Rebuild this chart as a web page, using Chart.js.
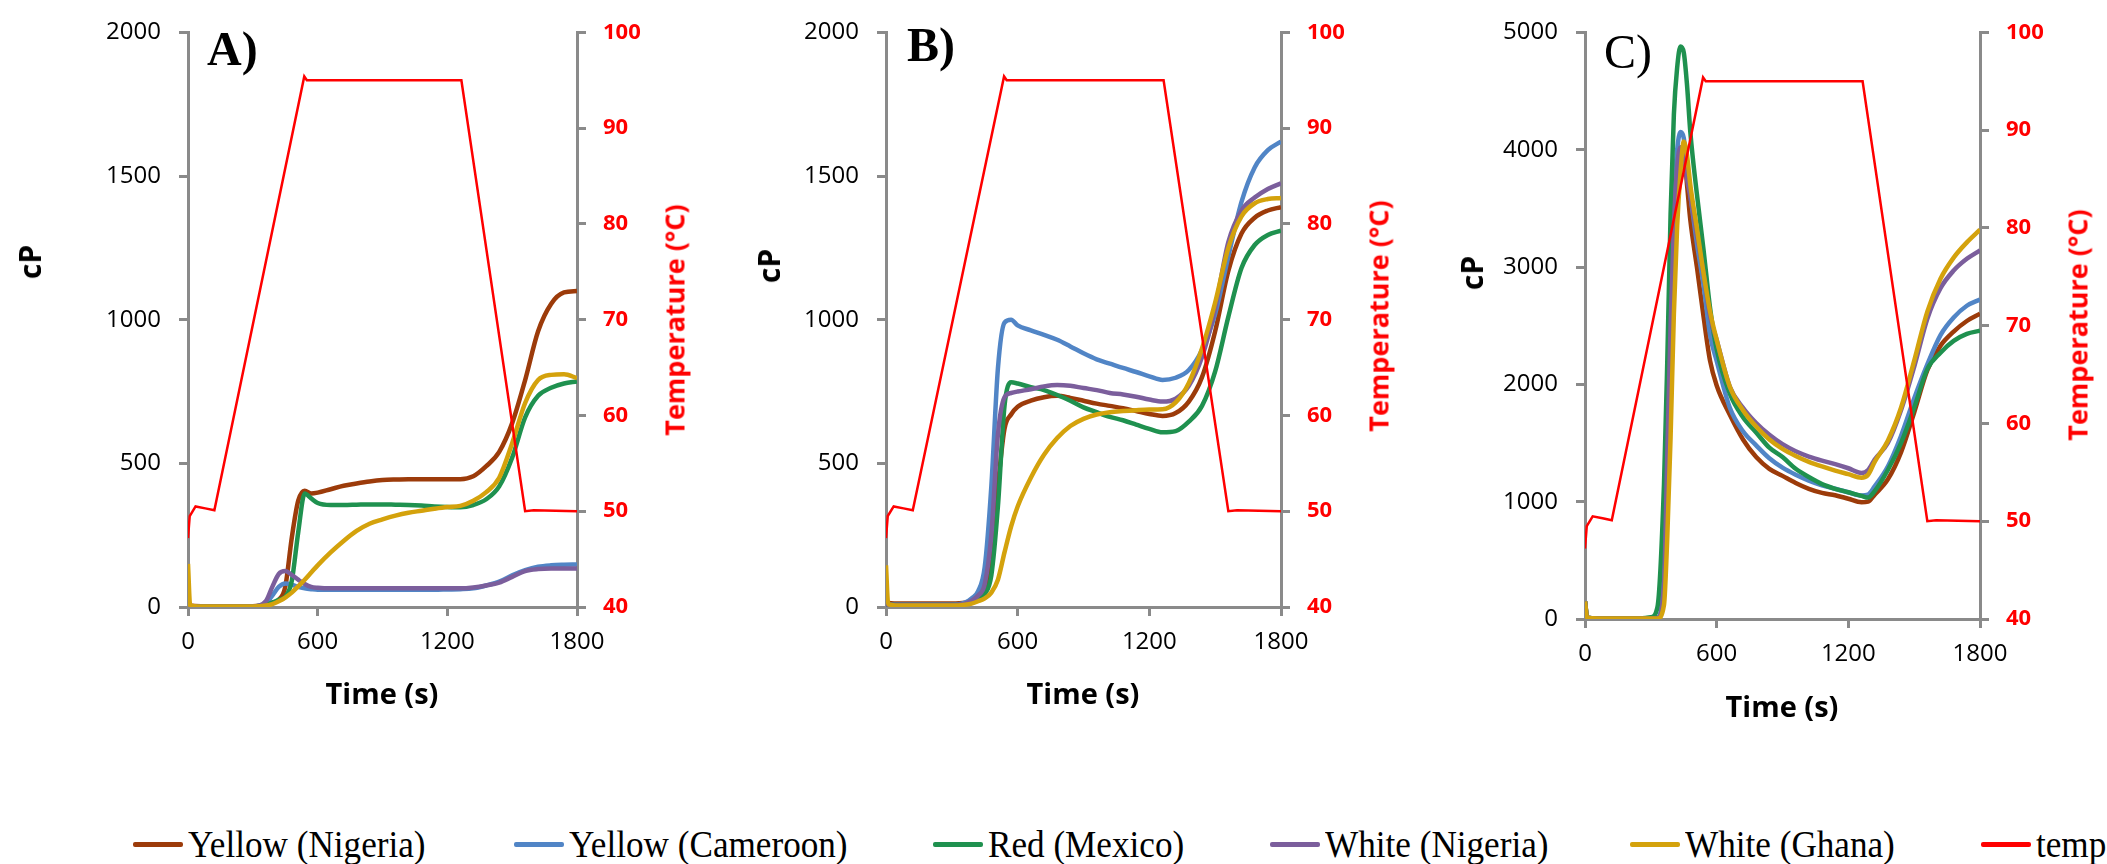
<!DOCTYPE html>
<html>
<head>
<meta charset="utf-8">
<script src="https://cdn.jsdelivr.net/npm/chart.js@4.4.1/dist/chart.umd.min.js"></script>
<style>
  body { margin: 0; background: #fff; width: 2107px; height: 864px; position: relative; overflow: hidden; }
  canvas { position: absolute; top: 0; }
  .lbl { position: absolute; white-space: nowrap; line-height: 1; font-family: "Open Sans", sans-serif; font-weight: bold; transform: translate(-50%, -50%); }
  .vert { transform: translate(-50%, -50%) rotate(-90deg); }
  .red { color: #ff0000; }
  .panel { position: absolute; font-family: "Liberation Serif", serif; font-size: 48px; line-height: 48px; }
  .sw { position: absolute; top: 842px; width: 50px; height: 5px; border-radius: 2px; }
  .lt { position: absolute; top: 826px; font-family: "Liberation Serif", serif; font-size: 37px; line-height: 37px; white-space: nowrap; transform: scaleX(0.95); transform-origin: left center; }
</style>
</head>
<body>
<canvas id="chartA" width="660" height="700" style="left:0px"></canvas>
<canvas id="chartB" width="700" height="700" style="left:700px"></canvas>
<canvas id="chartC" width="707" height="720" style="left:1400px"></canvas>

<div class="panel" style="left:207px; top:25px; font-weight:bold;">A)</div>
<div class="panel" style="left:907px; top:21px; font-weight:bold;">B)</div>
<div class="panel" style="left:1604px; top:28px;">C)</div>

<div class="lbl vert" style="left:30px; top:262px; font-size:30px;">cP</div>
<div class="lbl vert" style="left:769px; top:266px; font-size:30px;">cP</div>
<div class="lbl vert" style="left:1472px; top:273px; font-size:30px;">cP</div>
<div class="lbl vert red" style="left:674px; top:320px; font-size:27px;">Temperature (°C)</div>
<div class="lbl vert red" style="left:1378px; top:316px; font-size:27px;">Temperature (°C)</div>
<div class="lbl vert red" style="left:2077px; top:325px; font-size:27px;">Temperature (°C)</div>
<div class="lbl" style="left:382px; top:692px; font-size:29px;">Time (s)</div>
<div class="lbl" style="left:1083px; top:692px; font-size:29px;">Time (s)</div>
<div class="lbl" style="left:1782px; top:705px; font-size:29px;">Time (s)</div>

<div id="legend"></div>

<script>
// time grids (s)
const timeA = [0, 10, 60, 120, 180, 240, 300, 360, 390, 420, 450, 480, 510, 540, 570, 600,
  660, 720, 780, 840, 900, 960, 1020, 1080, 1140, 1200, 1260, 1320, 1380, 1440, 1500, 1560, 1620, 1680, 1740, 1800];
const timeB = timeA;
const timeC = [0, 10, 60, 120, 180, 240, 300, 330, 360, 375, 390, 405, 420, 435, 450, 465, 480, 510, 540, 570, 600,
  660, 720, 780, 840, 900, 960, 1020, 1080, 1140, 1200, 1260, 1290, 1320, 1380, 1440, 1500, 1560, 1620, 1680, 1740, 1800];

// temperature profile (°C), same for all three runs
const tempTime = [0, 8, 35, 80, 122, 538, 550, 1265, 1560, 1600, 1800];
const tempValues = [47.2, 49.5, 50.5, 50.3, 50.1, 95.4, 95.0, 95.0, 50.0, 50.1, 50.0];

// A) viscosity (cP)
const yellowNigeriaA = [10, 5, 3, 3, 3, 3, 3, 8, 15, 25, 70, 240, 370, 405, 395, 398,
  410, 422, 430, 437, 442, 444, 445, 445, 445, 445, 445, 455, 490, 540, 640, 790, 960, 1055, 1095, 1100];
const yellowCameroonA = [5, 3, 2, 2, 2, 2, 2, 12, 40, 70, 82, 78, 70, 65, 62, 60,
  60, 60, 60, 60, 60, 60, 60, 60, 60, 61, 62, 65, 75, 88, 110, 128, 140, 145, 147, 148];
const redMexicoA = [5, 3, 2, 2, 2, 2, 2, 8, 15, 25, 35, 90, 260, 395, 378, 362,
  355, 355, 356, 357, 357, 356, 355, 353, 350, 348, 347, 355, 375, 420, 520, 660, 735, 763, 778, 785];
const whiteNigeriaA = [5, 3, 2, 2, 2, 2, 2, 20, 70, 115, 125, 112, 95, 80, 70, 67,
  65, 65, 65, 65, 65, 65, 65, 65, 65, 65, 65, 68, 75, 85, 105, 125, 132, 134, 134, 134];
const whiteGhanaA = [150, 5, 2, 2, 2, 2, 2, 5, 10, 20, 33, 50, 72, 95, 120, 145,
  190, 230, 265, 290, 305, 318, 328, 335, 342, 348, 352, 370, 400, 450, 570, 710, 790, 808, 810, 797];

// B)
const yellowNigeriaB = [15, 14, 12, 12, 12, 12, 12, 15, 22, 35, 60, 150, 420, 620, 670, 697,
  718, 730, 735, 728, 718, 708, 700, 692, 682, 672, 665, 675, 715, 800, 960, 1170, 1300, 1355, 1380, 1392];
const yellowCameroonB = [12, 10, 8, 8, 8, 8, 8, 15, 30, 55, 140, 420, 830, 990, 1000, 980,
  963, 947, 930, 907, 883, 862, 847, 832, 818, 803, 790, 798, 825, 895, 1020, 1220, 1410, 1530, 1590, 1620];
const redMexicoB = [10, 8, 8, 8, 8, 8, 8, 10, 15, 25, 45, 110, 350, 700, 782, 778,
  765, 755, 738, 718, 695, 678, 662, 650, 635, 620, 608, 612, 645, 700, 820, 1010, 1180, 1260, 1295, 1310];
const whiteNigeriaB = [10, 8, 8, 8, 8, 8, 8, 12, 22, 40, 80, 250, 600, 730, 745, 750,
  758, 768, 773, 770, 762, 755, 745, 740, 732, 722, 715, 725, 770, 870, 1040, 1270, 1380, 1425, 1455, 1475];
const whiteGhanaB = [145, 10, 5, 5, 5, 5, 5, 8, 12, 20, 30, 50, 95, 190, 280, 350,
  450, 530, 588, 630, 655, 670, 678, 682, 685, 687, 688, 712, 780, 900, 1060, 1250, 1360, 1405, 1420, 1424];

// C)
const yellowNigeriaC = [150, 10, 5, 5, 5, 5, 5, 8, 300, 1400, 2500, 3300, 3800, 3960, 3980, 3700, 3400,
  3000, 2580, 2200, 1990, 1740, 1530, 1380, 1280, 1220, 1160, 1110, 1075, 1055, 1025, 995, 1000,
  1060, 1190, 1420, 1760, 2120, 2330, 2450, 2540, 2602];
const yellowCameroonC = [150, 10, 5, 5, 5, 5, 5, 10, 400, 1700, 2800, 3600, 4000, 4150, 4100, 3850, 3620,
  3200, 2850, 2420, 2200, 1800, 1600, 1480, 1370, 1290, 1230, 1180, 1140, 1110, 1080, 1052, 1060,
  1130, 1300, 1560, 1880, 2170, 2420, 2570, 2670, 2723];
const redMexicoC = [150, 10, 5, 5, 5, 5, 15, 100, 1150, 2200, 3450, 4300, 4700, 4880, 4830, 4550, 4150,
  3620, 3150, 2650, 2300, 1920, 1720, 1590, 1460, 1380, 1280, 1210, 1150, 1110, 1080, 1050, 1035,
  1090, 1270, 1500, 1800, 2130, 2270, 2370, 2430, 2457];
const whiteNigeriaC = [150, 10, 5, 5, 5, 5, 5, 8, 300, 1400, 2500, 3350, 3850, 4020, 3980, 3750, 3600,
  3270, 2950, 2580, 2380, 1980, 1800, 1670, 1570, 1490, 1430, 1385, 1350, 1320, 1285, 1245, 1270,
  1360, 1500, 1780, 2150, 2560, 2820, 2970, 3070, 3142];
const whiteGhanaC = [150, 10, 5, 5, 5, 5, 5, 5, 120, 700, 1550, 2600, 3350, 3800, 4070, 3950, 3700,
  3330, 2950, 2620, 2380, 1980, 1780, 1640, 1530, 1450, 1390, 1340, 1300, 1265, 1235, 1205, 1230,
  1340, 1520, 1800, 2200, 2620, 2900, 3080, 3210, 3318];

const seriesNames = ["Yellow (Nigeria)", "Yellow (Cameroon)", "Red (Mexico)", "White (Nigeria)", "White (Ghana)", "temp"];
const colors = ["#9c3b0a", "#5185c6", "#1f914f", "#7b5e9c", "#d4a20c", "#ff0000"];
const AXIS = "#8a8a8a";

function pts(times, vals) {
  return times.map((t, i) => ({ x: t, y: vals[i] }));
}

function makePanel(id, times, vals, yMax, yStep, box) {
  // draw order: temp on top, then White (Ghana), White (Nigeria), Red, Yellow (Cameroon), Yellow (Nigeria)
  const order = [4, 3, 2, 1, 0];
  const datasets = [{
    label: "temp",
    data: pts(tempTime, tempValues),
    borderColor: colors[5],
    borderWidth: 2.5,
    yAxisID: "y2",
    tension: 0,
  }];
  order.forEach((k) => {
    datasets.push({
      label: seriesNames[k],
      data: pts(times, vals[k]),
      borderColor: colors[k],
      borderWidth: 4.5,
      yAxisID: "y",
      cubicInterpolationMode: "monotone",
    });
  });

  const gridOpts = { drawOnChartArea: false, color: AXIS, lineWidth: 3, tickLength: 9 };
  const borderOpts = { color: AXIS, width: 3 };

  new Chart(document.getElementById(id), {
    type: "line",
    data: { datasets },
    options: {
      responsive: false,
      animation: false,
      devicePixelRatio: 1,
      elements: { point: { radius: 0 } },
      layout: { padding: { top: box.top, left: 0, right: 0, bottom: 0 } },
      plugins: { legend: { display: false }, tooltip: { enabled: false } },
      scales: {
        x: {
          type: "linear", min: 0, max: 1800,
          ticks: { stepSize: 600, color: "#000", font: { family: "Open Sans", size: 24 }, padding: 12, maxRotation: 0,
            callback: (v) => String(v) },
          grid: gridOpts, border: borderOpts,
          afterFit: (s) => { s.height = box.xh; },
        },
        y: {
          position: "left", min: 0, max: yMax,
          ticks: { stepSize: yStep, color: "#000", font: { family: "Open Sans", size: 24 }, padding: 18,
            callback: (v) => String(v) },
          grid: gridOpts, border: borderOpts,
          afterFit: (s) => { s.width = box.yl; },
        },
        y2: {
          position: "right", min: 40, max: 100,
          ticks: { stepSize: 10, color: "#ff0000", font: { family: "Open Sans", size: 22, weight: "bold" }, padding: 17 },
          grid: gridOpts, border: borderOpts,
          afterFit: (s) => { s.width = box.yr; },
        },
      },
    },
  });
}

makePanel("chartA", timeA, [yellowNigeriaA, yellowCameroonA, redMexicoA, whiteNigeriaA, whiteGhanaA], 2000, 500,
  { top: 31, yl: 188, yr: 83, xh: 93 });
makePanel("chartB", timeB, [yellowNigeriaB, yellowCameroonB, redMexicoB, whiteNigeriaB, whiteGhanaB], 2000, 500,
  { top: 23, yl: 186, yr: 119, xh: 93 });
makePanel("chartC", timeC, [yellowNigeriaC, yellowCameroonC, redMexicoC, whiteNigeriaC, whiteGhanaC], 5000, 1000,
  { top: 32, yl: 185, yr: 127, xh: 101 });

// shared legend along the bottom
const legendX = [133, 514, 933, 1270, 1630, 1981];
const legend = document.getElementById("legend");
seriesNames.forEach((name, i) => {
  const sw = document.createElement("div");
  sw.className = "sw";
  sw.style.left = legendX[i] + "px";
  sw.style.background = colors[i];
  legend.appendChild(sw);
  const tx = document.createElement("div");
  tx.className = "lt";
  tx.style.left = (legendX[i] + 55) + "px";
  tx.textContent = name;
  legend.appendChild(tx);
});
</script>
</body>
</html>
